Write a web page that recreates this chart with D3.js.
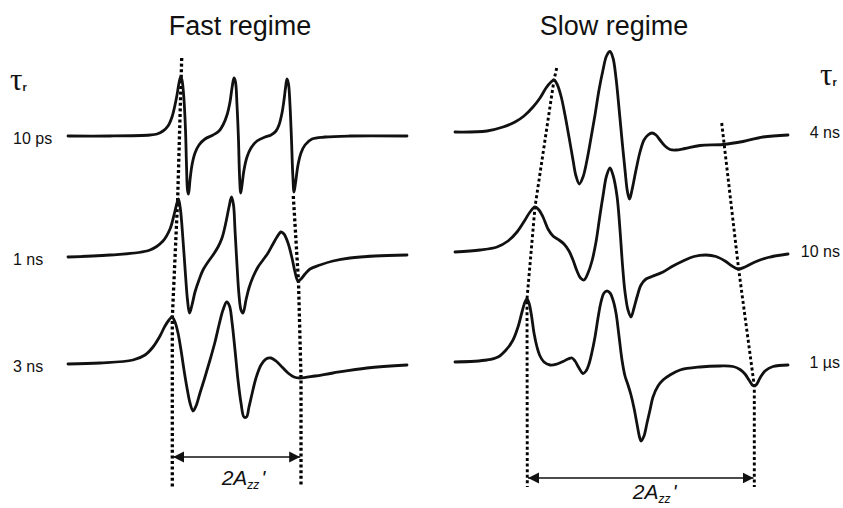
<!DOCTYPE html>
<html><head><meta charset="utf-8">
<script src="https://cdn.jsdelivr.net/npm/d3@7"></script>
<style>body{margin:0;background:#fff}svg{display:block}</style>
</head><body><svg id="c" width="843" height="508"></svg>
<script>
// ---- data (field in arbitrary units, amplitude in arbitrary units) ----
const panelTitles = ["Fast regime", "Slow regime"];
const fastLabels = ["10 ps", "1 ns", "3 ns"];
const slowLabels = ["4 ns", "10 ns", "1 µs"];
const fastOffsets = [364, 245, 136];
const slowOffsets = [368, 248, 138];

const fast10ps = [[0,0],[42,0],[82,1],[89,2],[95,5],[100,10],[104,19],[107,31],[109,41],[111,53],[112.7,59],[114,56],[116,36],[117.5,6],[118.5,-29],[119.5,-54],[120.5,-58],[122,-44],[124,-29],[127,-17],[131,-9],[137,-3],[145,1],[151,5],[155,11],[159,21],[162,34],[164,48],[166,58],[167.5,54],[169,31],[170.5,-4],[171.5,-39],[172.7,-57],[174,-49],[176,-34],[179,-21],[183,-12],[189,-5],[197,-1],[203,1],[208,5],[211,11],[214,23],[216,36],[217.5,48],[219,57],[220.5,52],[222,31],[223.5,-4],[224.8,-39],[226,-56],[227.5,-47],[230,-29],[233,-17],[237,-9],[244,-3],[257,-1],[282,0],[339,0]];
const fast1ns = [[0,-2],[42,0],[82,5],[95,14],[102,26],[106,40],[109,52],[110.5,56],[112.5,45],[115,15],[117.5,-20],[119.5,-45],[121.5,-58],[124,-50],[127,-37],[131,-25],[135,-15],[140,-7],[145,0],[150,8],[154,17],[158,33],[161,48],[163.5,58],[165.5,50],[167,25],[169,-10],[171,-40],[173,-55],[175,-58],[178,-45],[181,-33],[185,-22],[190,-12],[195,-5],[200,2],[205,11],[209,18],[213,23],[216,21],[220,12],[224,-3],[227,-17],[230,-26],[233,-24],[237,-19],[242,-14],[252,-10],[265,-6],[282,-3],[307,-1],[339,0]];
const fast3ns = [[0,0],[32,1],[65,4],[77,9],[85,17],[92,28],[97,38],[101,44],[104,47],[107,42],[110,31],[113,14],[116,-6],[119,-24],[122,-39],[125,-47],[128,-42],[132,-29],[137,-13],[142,4],[147,22],[151,39],[155,54],[158.7,62],[161.5,58],[164,42],[167,14],[170,-16],[173,-39],[176,-53],[178.5,-53],[181,-43],[184,-30],[188,-14],[193,-1],[198,5],[203,6],[208,3],[214,-3],[220,-9],[226,-13],[232,-14],[247,-12],[265,-9],[299,-4],[339,-1]];

const slow4ns = [[0,0],[32,1],[48,5],[60,10],[69,16],[78,25],[85,34],[91,44],[96,50],[99,52],[102,48],[106,36],[110,17],[114,-5],[118,-28],[121,-44],[124.3,-52],[128,-45],[132,-28],[136,-6],[140,17],[144,42],[148,62],[151.5,76],[155,80.5],[158,74],[161,54],[164,24],[167,-8],[170,-38],[172.5,-60],[174.5,-67],[177,-58],[181,-38],[185,-20],[189,-8],[193,-3],[197,-1],[201,-3],[205,-8],[210,-14],[215,-17.5],[221,-18],[230,-16.5],[245,-13.5],[268,-12.5],[288,-9.5],[308,-5],[333,-3]];
const slow10ns = [[0,0],[25,2],[42,5],[53,11],[62,20],[70,32],[75,40],[80,45],[84,42],[88,35],[93,23],[98,16],[104,12],[109,8],[114,1],[118,-8],[122,-19],[125.5,-26],[129,-28],[133,-21],[137,-9],[141,10],[145,37],[148,56],[151.5,76],[155,84],[158,77],[162,56],[165,22],[167.5,-13],[170,-40],[173,-58],[176,-65],[179,-56],[182,-45],[186,-33],[191,-27],[197,-24.5],[208,-20],[218,-14],[228,-9],[239,-4.5],[251,-3],[261,-4.5],[270,-9],[277,-14],[283,-17],[290,-15],[300,-10],[313,-5.5],[333,-2]];
const slow1us = [[0,0],[32,2],[43,5],[51,12],[58,22],[63,35],[67,50],[70,60],[72,63],[74,59],[76.7,45],[79,29],[82,15],[85,6],[89,0],[95,-3],[102,-2],[108,0.5],[113,3],[117,4],[120,1],[124,-6],[128,-11.5],[131,-9],[134,-2],[137,10],[140,25],[143,44],[146,60],[149,69],[152,71],[155,69],[158,62],[161,49],[164,26],[167,2],[170,-14],[173,-23],[176,-33],[179,-46],[182,-62],[184.5,-75],[186,-79],[189,-74],[192,-61],[195,-48],[198,-35],[203,-24],[208,-18],[215,-13],[225,-8],[245,-5],[265,-4],[278,-4.5],[285,-7.5],[290,-12],[294,-18],[298,-23.5],[301,-23],[305,-16],[310,-9],[318,-4.5],[333,-3]];

// dotted guides: [field, level]
const fastGuideLeft  = [[113.7,442],[109.7,302],[104.3,182],[104.3,13]];
const fastGuideRight = [[225.3,304],[230.5,218],[233,122],[233,13]];
const slowGuideLeft  = [[101.7,432],[99,420],[80,293],[72,201],[72.3,13]];
const slowGuideRight = [[266.7,377],[283.5,232],[299.3,114],[299.3,13]];
const arrowLevels = [43, 22];

// ---- drawing ----
const svg = d3.select("#c");
const xFast = d3.scaleLinear().domain([0, 340]).range([68, 408]);
const xSlow = d3.scaleLinear().domain([0, 340]).range([455, 795]);
const y = d3.scaleLinear().domain([0, 500]).range([500, 0]);

const panels = [
  {x: xFast, traces: [fast10ps, fast1ns, fast3ns], offsets: fastOffsets, labels: fastLabels,
   guides: [fastGuideLeft, fastGuideRight], arrowLevel: arrowLevels[0], titleX: 240, side: "left", gw: 3.3},
  {x: xSlow, traces: [slow4ns, slow10ns, slow1us], offsets: slowOffsets, labels: slowLabels,
   guides: [slowGuideLeft, slowGuideRight], arrowLevel: arrowLevels[1], titleX: 614, side: "right", gw: 2.9}
];

const defs = svg.append("defs");
["s","e"].forEach(k => {
  defs.append("marker").attr("id", "arr" + k)
    .attr("viewBox", "0 0 10 10").attr("refX", k === "e" ? 10 : 0).attr("refY", 5)
    .attr("markerWidth", 11).attr("markerHeight", 12).attr("markerUnits", "userSpaceOnUse")
    .attr("orient", "auto")
    .append("path")
    .attr("d", k === "e" ? "M0,0L10,5L0,10Z" : "M10,0L0,5L10,10Z")
    .attr("fill", "#111");
});

panels.forEach((p, pi) => {
  const g = svg.append("g");
  g.append("text").attr("x", p.titleX).attr("y", 35).attr("text-anchor", "middle")
    .attr("font-family", "Liberation Sans, Arial, sans-serif").attr("font-size", 27)
    .attr("fill", "#111").text(panelTitles[pi]);

  // guides
  const gl = d3.line().x(d => p.x(d[0])).y(d => y(d[1]));
  p.guides.forEach(gd => {
    g.append("path").attr("d", gl(gd)).attr("fill", "none").attr("stroke", "#000")
      .attr("stroke-width", p.gw).attr("stroke-dasharray", "3,2.6");
  });

  // traces
  p.traces.forEach((tr, i) => {
    const off = p.offsets[i];
    const line = d3.line().x(d => p.x(d[0])).y(d => y(off + d[1]))
      .curve(d3.curveCatmullRom.alpha(0.5));
    g.append("path").attr("d", line(tr)).attr("fill", "none").attr("stroke", "#111")
      .attr("stroke-width", 2.8).attr("stroke-linejoin", "round").attr("stroke-linecap", "round");
    const first = tr[0], last = tr[tr.length - 1];
    const t = g.append("text").attr("font-family", "Liberation Sans, Arial, sans-serif")
      .attr("font-size", 16).attr("fill", "#111").text(p.labels[i]);
    if (p.side === "left") t.attr("x", 13).attr("y", y(off + first[1]) + 8);
    else t.attr("x", 840).attr("text-anchor", "end").attr("y", y(off + last[1]) + 3);
  });

  // arrow
  const xa = p.x(p.guides[0][p.guides[0].length - 1][0]) + 0.8;
  const xb = p.x(p.guides[1][p.guides[1].length - 1][0]) - 0.8;
  const ya = y(p.arrowLevel);
  g.append("line").attr("x1", xa).attr("x2", xb).attr("y1", ya).attr("y2", ya)
    .attr("stroke", "#111").attr("stroke-width", 1.6)
    .attr("marker-start", "url(#arrs)").attr("marker-end", "url(#arre)");
  const lab = g.append("text").attr("x", (xa + xb) / 2 + (pi === 0 ? -15 : -8)).attr("y", ya + (pi === 0 ? 28 : 21))
    .attr("font-family", "Liberation Sans, Arial, sans-serif").attr("font-style", "italic")
    .attr("font-size", 21).attr("fill", "#111");
  lab.append("tspan").text("2A");
  lab.append("tspan").attr("font-size", 12).attr("dy", 4).text("zz");
  lab.append("tspan").attr("dy", -4).attr("dx", 2).text("'");

  // tau_r
  const tx = p.side === "left" ? 10 : 820;
  const ty = p.side === "left" ? 90 : 85;
  const tau = g.append("text").attr("x", tx).attr("y", ty).attr("fill", "#111")
    .attr("font-family", "Liberation Serif, Times New Roman, serif").attr("font-size", 31);
  tau.append("tspan").text("τ");
  tau.append("tspan").attr("font-family", "Liberation Sans, Arial, sans-serif")
    .attr("font-weight", "bold").attr("font-size", 11).attr("dy", 1).text("r");
});
</script></body></html>
